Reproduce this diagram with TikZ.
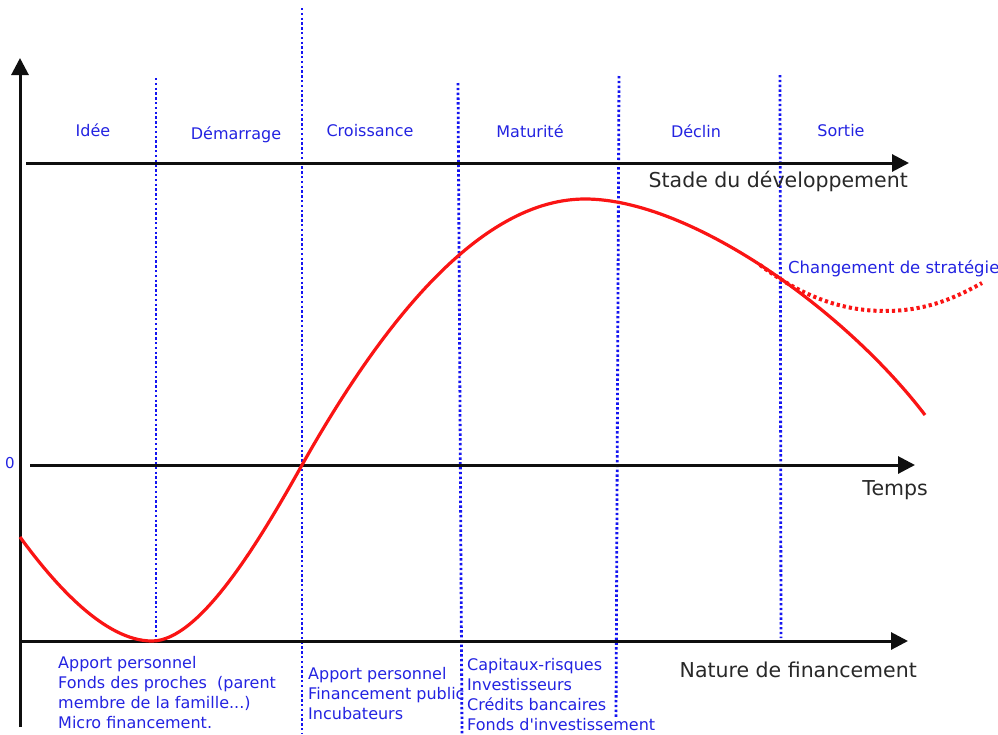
\documentclass[tikz,border=0pt]{standalone}
\usepackage{fontspec}
\setmainfont{DejaVu Sans}[Ligatures=TeXOff]
\usetikzlibrary{arrows.meta}
\definecolor{lblue}{RGB}{35,35,225}
\definecolor{dotblue}{RGB}{20,20,240}
\definecolor{axisgray}{RGB}{15,15,15}
\definecolor{labgray}{RGB}{40,40,40}
\definecolor{curvered}{RGB}{250,20,20}
\tikzset{
  axisline/.style={line width=3pt, draw=axisgray, -{Triangle[length=17pt,width=17pt]}},
  sepline/.style={draw=dotblue, line width=2.8pt, dash pattern=on 2.4pt off 2.4pt},
  stagelab/.style={text=lblue, font=\fontsize{16}{19}\selectfont, inner sep=0pt, anchor=base},
  finlab/.style={text=lblue, font=\fontsize{16}{20}\selectfont, align=left, inner sep=0pt, anchor=north west},
  axlab/.style={text=labgray, font=\fontsize{20.5}{24}\selectfont, inner sep=0pt, anchor=base east},
  lifecurve/.style={draw=curvered, line width=3.2pt},
  altcurve/.style={draw=curvered, line width=4pt, dash pattern=on 3.2pt off 3pt}
}
\begin{document}
\begin{tikzpicture}[x=1pt,y=-1pt]
\useasboundingbox (0,0) rectangle (998,734);

% axes coordinates
\coordinate (vb) at (20,727);
\coordinate (vt) at (20,58);
\coordinate (s0) at (26,163);
\coordinate (s1) at (909,163);
\coordinate (t0) at (30,465);
\coordinate (t1) at (915,465);
\coordinate (n0) at (22,641);
\coordinate (n1) at (908,641);

% separators
\coordinate (a1) at (156,78);  \coordinate (b1) at (156,641);
\coordinate (a2) at (302,8);   \coordinate (b2) at (302,734);
\coordinate (a3) at (458,83);  \coordinate (b3) at (462,734);
\coordinate (a4) at (619,76);  \coordinate (b4) at (616,718);
\coordinate (a5) at (780,75);  \coordinate (b5) at (781,638);
\draw[sepline] (a1) -- (b1);
\draw[sepline] (a2) -- (b2);
\draw[sepline] (a3) -- (b3);
\draw[sepline] (a4) -- (b4);
\draw[sepline] (a5) -- (b5);

% axes
\draw[axisline] (vb) -- (vt);
\draw[axisline] (s0) -- (s1);
\draw[axisline] (t0) -- (t1);
\draw[axisline] (n0) -- (n1);

% curve
\draw[lifecurve] (20,537) .. controls (55,585) and (105,641) .. (152,641)
  .. controls (200,641) and (260,540) .. (302,465)
  .. controls (368,348) and (470,199) .. (585,199)
  .. controls (690,199) and (845,310) .. (925,415);
\draw[altcurve] (760,265) .. controls (800,295) and (840,311) .. (885,311)
  .. controls (930,311) and (960,295) .. (982,283);

% labels
\node[axlab] (lstade) at (908,187) {Stade du développement};
\node[axlab] (ltemps) at (928,495) {Temps};
\node[axlab] (lnature) at (917,677) {Nature de financement};
\node[text=lblue, font=\fontsize{15}{17}\selectfont, inner sep=0pt] (lzero) at (10,463) {0};

\node[stagelab] (sidee) at (93,136) {Idée};
\node[stagelab] (sdem) at (236,139) {Démarrage};
\node[stagelab] (scroi) at (370,136) {Croissance};
\node[stagelab] (smat) at (530,137) {Maturité};
\node[stagelab] (sdecl) at (696,137) {Déclin};
\node[stagelab] (ssort) at (841,136) {Sortie};

\node[text=lblue, font=\fontsize{16.5}{19}\selectfont, inner sep=0pt, anchor=base west] (lchg) at (788,273) {Changement de stratégie};

\node[finlab] (f1) at (58,655.8) {Apport personnel\\Fonds des proches~ (parent\\membre de la famille...)\\Micro financement.};
\node[finlab] (f2) at (308,666.8) {Apport personnel\\Financement public\\Incubateurs};
\node[finlab] (f3) at (467,658.3) {Capitaux-risques\\Investisseurs\\Crédits bancaires\\Fonds d'investissement};
\end{tikzpicture}
\end{document}
